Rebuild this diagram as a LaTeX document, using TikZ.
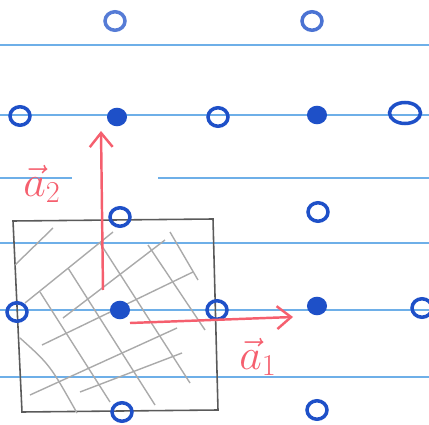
\documentclass[tikz,border=0pt]{standalone}
\usepackage{amsmath}
\usepackage{xcolor}
\usepackage{tikz}
\usetikzlibrary{shapes.geometric,arrows.meta,positioning}
\definecolor{penblue}{RGB}{30,80,200}
\definecolor{ruleblue}{RGB}{110,175,232}
\definecolor{penred}{RGB}{245,95,110}
\definecolor{pencil}{RGB}{90,90,90}
\definecolor{hatch}{RGB}{170,170,170}

\begin{document}
\begin{tikzpicture}[x=0.02cm, y=-0.02cm, font=\fontsize{24}{28}\selectfont,
  rule/.style={ruleblue, line width=1.1pt},
  site/.style={ellipse, draw=penblue, line width=2pt, inner sep=0pt, minimum width=0.4cm, minimum height=0.37cm},
  fullsite/.style={site, fill=penblue, minimum width=0.33cm, minimum height=0.3cm},
  hatchline/.style={hatch, line width=0.8pt},
  vec/.style={penred, line width=1.4pt, -{Straight Barb[length=8pt, width=13pt]}},
  lbl/.style={text=penred, inner sep=0pt}]
\useasboundingbox (0,0) rectangle (429,425);

% ruled lines
\draw[rule] (0,45) -- (429,45);
\draw[rule] (0,115) -- (429,115);
\draw[rule] (0,178) -- (72,178);
\draw[rule] (158,178) -- (429,178);
\draw[rule] (0,243) -- (429,243);
\draw[rule] (0,310) -- (429,310);
\draw[rule] (0,377) -- (429,377);

% unit cell and its hatching
\draw[pencil, line width=0.9pt] (13,221) -- (213,219) -- (218,410) -- (22,412) -- cycle;
\draw[hatchline] (15,265) -- (53,228);
\draw[hatchline] (25,303) -- (113,232);
\draw[hatchline] (63,318) -- (165,240);
\draw[hatchline] (42,345) -- (193,272);
\draw[hatchline] (30,395) -- (177,328);
\draw[hatchline] (80,392) -- (182,353);
\draw[hatchline] (20,338) .. controls (50,365) .. (77,413);
\draw[hatchline] (40,292) -- (110,402);
\draw[hatchline] (68,268) -- (155,405);
\draw[hatchline] (100,243) -- (190,383);
\draw[hatchline] (148,245) -- (205,330);
\draw[hatchline] (170,232) -- (198,280);

% lattice sites
\node[site, draw=penblue!75] (t1) at (115,21) {};
\node[site, draw=penblue!80] (t2) at (312,21) {};
\node[site] (r1) at (20,116) {};
\node[fullsite] (r2) at (117,117) {};
\node[site] (r3) at (218,117) {};
\node[fullsite] (r4) at (317,115) {};
\node[site, minimum width=0.62cm, minimum height=0.42cm] (r5) at (405,113) {};
\node[site] (m1) at (120,217) {};
\node[site] (m2) at (318,212) {};
\node[site] (c1) at (17,312) {};
\node[fullsite] (c2) at (120,310) {};
\node[site] (c3) at (217,310) {};
\node[fullsite] (c4) at (317,306) {};
\node[site] (c5) at (422,308) {};
\node[site] (b1) at (122,412) {};
\node[site] (b2) at (317,410) {};

% lattice vectors
\coordinate (a2base) at (103,290);
\coordinate (a2tip) at (101,131);
\coordinate (a1base) at (130,323);
\coordinate (a1tip) at (293,317);
\draw[vec] (a2base) -- (a2tip);
\draw[vec] (a1base) -- (a1tip);
\node[lbl] (a2lbl) at (42,184) {$\vec{a}_2$};
\node[lbl] (a1lbl) at (258,357) {$\vec{a}_1$};
\end{tikzpicture}
\end{document}
